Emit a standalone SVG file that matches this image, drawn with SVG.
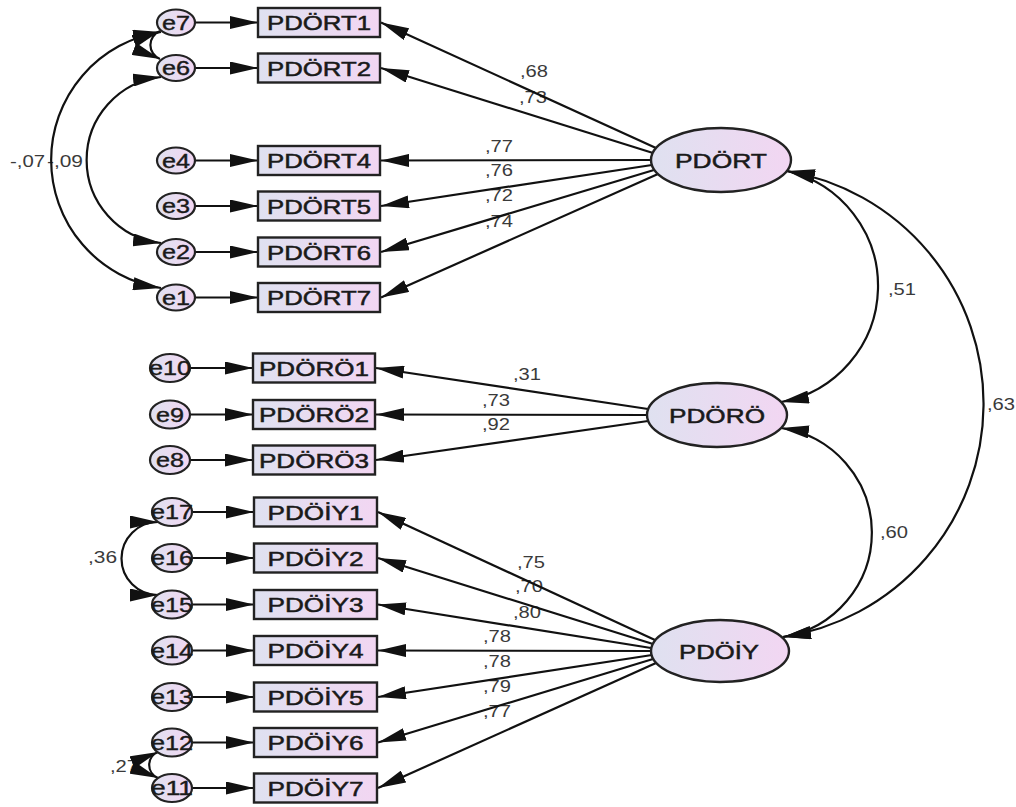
<svg xmlns="http://www.w3.org/2000/svg" width="1016" height="807" viewBox="0 0 1016 807">
<style>
.bg{fill:#ffffff}
.box{fill:url(#gr);stroke:#222;stroke-width:2.4}
.lat{fill:url(#gr);stroke:#222;stroke-width:2.4}
.err{fill:url(#gr);stroke:#222;stroke-width:2.2}
.ln{fill:none;stroke:#111;stroke-width:2.2;marker-end:url(#ah)}
.cov{fill:none;stroke:#111;stroke-width:2.2;marker-start:url(#ah);marker-end:url(#ah)}
.t{font-family:"Liberation Sans",Arial,sans-serif;font-size:21px;fill:#1a1a1a;stroke:#1a1a1a;stroke-width:0.5;text-anchor:middle}
.te{font-family:"Liberation Sans",Arial,sans-serif;font-size:20px;fill:#1a1a1a;stroke:#1a1a1a;stroke-width:0.4;text-anchor:middle}
.nl{font-family:"Liberation Sans",Arial,sans-serif;font-size:16px;fill:#3a3a3a}
</style>
<defs>
<linearGradient id="gr" x1="0" y1="0" x2="1" y2="0">
<stop offset="0" stop-color="#dfe1f0"/>
<stop offset="1" stop-color="#f2d6f2"/>
</linearGradient>
<marker id="ah" viewBox="0 0 28 13" refX="28" refY="6.5" markerWidth="28" markerHeight="13" markerUnits="userSpaceOnUse" orient="auto-start-reverse">
<path d="M0,0 L28,6.5 L0,13 z" fill="#111"/>
</marker>
</defs>
<rect class="bg" x="0" y="0" width="1016" height="807"/>

<g id="labels">
<text class="nl" x="520" y="77" textLength="28" lengthAdjust="spacingAndGlyphs">,68</text>
<text class="nl" x="519" y="103" textLength="28" lengthAdjust="spacingAndGlyphs">,73</text>
<text class="nl" x="485" y="152" textLength="28" lengthAdjust="spacingAndGlyphs">,77</text>
<text class="nl" x="485" y="176" textLength="28" lengthAdjust="spacingAndGlyphs">,76</text>
<text class="nl" x="485" y="201" textLength="28" lengthAdjust="spacingAndGlyphs">,72</text>
<text class="nl" x="485" y="227" textLength="28" lengthAdjust="spacingAndGlyphs">,74</text>
<text class="nl" x="513" y="380" textLength="28" lengthAdjust="spacingAndGlyphs">,31</text>
<text class="nl" x="482" y="406" textLength="28" lengthAdjust="spacingAndGlyphs">,73</text>
<text class="nl" x="482" y="430" textLength="28" lengthAdjust="spacingAndGlyphs">,92</text>
<text class="nl" x="517" y="568" textLength="28" lengthAdjust="spacingAndGlyphs">,75</text>
<text class="nl" x="515" y="592" textLength="28" lengthAdjust="spacingAndGlyphs">,70</text>
<text class="nl" x="513" y="618" textLength="28" lengthAdjust="spacingAndGlyphs">,80</text>
<text class="nl" x="483" y="642" textLength="28" lengthAdjust="spacingAndGlyphs">,78</text>
<text class="nl" x="483" y="667" textLength="28" lengthAdjust="spacingAndGlyphs">,78</text>
<text class="nl" x="483" y="692" textLength="28" lengthAdjust="spacingAndGlyphs">,79</text>
<text class="nl" x="483" y="717" textLength="28" lengthAdjust="spacingAndGlyphs">,77</text>
<text class="nl" x="888" y="295" textLength="28" lengthAdjust="spacingAndGlyphs">,51</text>
<text class="nl" x="987" y="410" textLength="28" lengthAdjust="spacingAndGlyphs">,63</text>
<text class="nl" x="880" y="538" textLength="28" lengthAdjust="spacingAndGlyphs">,60</text>
<text class="nl" x="10" y="167" textLength="35" lengthAdjust="spacingAndGlyphs">-,07</text>
<text class="nl" x="47" y="167" textLength="36" lengthAdjust="spacingAndGlyphs">-,09</text>
<text class="nl" x="88" y="563" textLength="29" lengthAdjust="spacingAndGlyphs">,36</text>
<text class="nl" x="110" y="772" textLength="28" lengthAdjust="spacingAndGlyphs">,27</text>
</g>

<g id="connectors">
<line class="ln" x1="195" y1="22.5" x2="258" y2="22.5"/>
<line class="ln" x1="195" y1="68" x2="258" y2="68"/>
<line class="ln" x1="195" y1="160.5" x2="258" y2="160.5"/>
<line class="ln" x1="195" y1="206" x2="258" y2="206"/>
<line class="ln" x1="195" y1="252" x2="258" y2="252"/>
<line class="ln" x1="195" y1="297.5" x2="258" y2="297.5"/>
<line class="ln" x1="190" y1="368" x2="253" y2="368"/>
<line class="ln" x1="190" y1="414.5" x2="253" y2="414.5"/>
<line class="ln" x1="190" y1="460" x2="253" y2="460"/>
<line class="ln" x1="192" y1="512" x2="254" y2="512"/>
<line class="ln" x1="192" y1="558" x2="254" y2="558"/>
<line class="ln" x1="192" y1="604.5" x2="254" y2="604.5"/>
<line class="ln" x1="192" y1="650.5" x2="254" y2="650.5"/>
<line class="ln" x1="192" y1="697" x2="254" y2="697"/>
<line class="ln" x1="192" y1="742.5" x2="254" y2="742.5"/>
<line class="ln" x1="192" y1="788" x2="254" y2="788"/>
<line class="ln" x1="656" y1="148" x2="381" y2="22.5"/>
<line class="ln" x1="653" y1="153" x2="381" y2="68"/>
<line class="ln" x1="651" y1="160" x2="381" y2="160.5"/>
<line class="ln" x1="652" y1="165" x2="381" y2="206"/>
<line class="ln" x1="654" y1="170" x2="381" y2="252"/>
<line class="ln" x1="658" y1="174" x2="381" y2="297.5"/>
<line class="ln" x1="648" y1="409" x2="376" y2="368"/>
<line class="ln" x1="647" y1="415" x2="376" y2="414.5"/>
<line class="ln" x1="648" y1="421" x2="376" y2="460"/>
<line class="ln" x1="655" y1="640" x2="378" y2="512"/>
<line class="ln" x1="653" y1="644" x2="378" y2="558"/>
<line class="ln" x1="651" y1="648" x2="378" y2="604.5"/>
<line class="ln" x1="651" y1="651" x2="378" y2="650.5"/>
<line class="ln" x1="652" y1="655" x2="378" y2="697"/>
<line class="ln" x1="653" y1="659" x2="378" y2="742.5"/>
<line class="ln" x1="656" y1="663" x2="378" y2="788"/>
<path class="cov" d="M161,32 A129.5,129.5 0 0 0 161,288"/>
<path class="cov" d="M161,77 A83.5,83.5 0 0 0 161,243"/>
<path class="cov" d="M160,31 A15,15 0 0 0 160,59"/>
<path class="cov" d="M158,522 A36.3,36.3 0 0 0 158,595"/>
<path class="cov" d="M158,752 A14,14 0 0 0 158,778"/>
<path class="cov" d="M787,171 A118,118 0 0 1 781,402"/>
<path class="cov" d="M787,171 A236,236 0 0 1 783,637"/>
<path class="cov" d="M781,428 A105.7,105.7 0 0 1 783,637"/>
</g>

<g id="PDORT"><ellipse class="lat" cx="721" cy="160" rx="70" ry="32"/><text class="t" x="721" y="168" textLength="92" lengthAdjust="spacingAndGlyphs">PDÖRT</text></g>
<g id="PDORO"><ellipse class="lat" cx="717" cy="415" rx="70" ry="32"/><text class="t" x="717" y="423" textLength="96" lengthAdjust="spacingAndGlyphs">PDÖRÖ</text></g>
<g id="PDOIY"><ellipse class="lat" cx="720" cy="651" rx="69" ry="31"/><text class="t" x="719" y="659" textLength="80" lengthAdjust="spacingAndGlyphs">PDÖİY</text></g>

<g id="PDORT1"><rect class="box" x="258" y="8" width="122" height="29"/><text class="t" x="319" y="30" textLength="104" lengthAdjust="spacingAndGlyphs">PDÖRT1</text></g>
<g id="PDORT2"><rect class="box" x="258" y="53.5" width="122" height="29"/><text class="t" x="319" y="75.5" textLength="104" lengthAdjust="spacingAndGlyphs">PDÖRT2</text></g>
<g id="PDORT4"><rect class="box" x="258" y="146" width="122" height="29"/><text class="t" x="319" y="168" textLength="104" lengthAdjust="spacingAndGlyphs">PDÖRT4</text></g>
<g id="PDORT5"><rect class="box" x="258" y="191.5" width="122" height="29"/><text class="t" x="319" y="213.5" textLength="104" lengthAdjust="spacingAndGlyphs">PDÖRT5</text></g>
<g id="PDORT6"><rect class="box" x="258" y="237.5" width="122" height="29"/><text class="t" x="319" y="259.5" textLength="104" lengthAdjust="spacingAndGlyphs">PDÖRT6</text></g>
<g id="PDORT7"><rect class="box" x="258" y="283" width="122" height="29"/><text class="t" x="319" y="305" textLength="104" lengthAdjust="spacingAndGlyphs">PDÖRT7</text></g>

<g id="PDORO1"><rect class="box" x="253" y="353.5" width="122" height="29"/><text class="t" x="314" y="375.5" textLength="110" lengthAdjust="spacingAndGlyphs">PDÖRÖ1</text></g>
<g id="PDORO2"><rect class="box" x="253" y="400" width="122" height="29"/><text class="t" x="314" y="422" textLength="110" lengthAdjust="spacingAndGlyphs">PDÖRÖ2</text></g>
<g id="PDORO3"><rect class="box" x="253" y="445.5" width="122" height="29"/><text class="t" x="314" y="467.5" textLength="110" lengthAdjust="spacingAndGlyphs">PDÖRÖ3</text></g>

<g id="PDOIY1"><rect class="box" x="254" y="497.5" width="123" height="29"/><text class="t" x="315.5" y="519.5" textLength="96" lengthAdjust="spacingAndGlyphs">PDÖİY1</text></g>
<g id="PDOIY2"><rect class="box" x="254" y="543.5" width="123" height="29"/><text class="t" x="315.5" y="565.5" textLength="96" lengthAdjust="spacingAndGlyphs">PDÖİY2</text></g>
<g id="PDOIY3"><rect class="box" x="254" y="590" width="123" height="29"/><text class="t" x="315.5" y="612" textLength="96" lengthAdjust="spacingAndGlyphs">PDÖİY3</text></g>
<g id="PDOIY4"><rect class="box" x="254" y="636" width="123" height="29"/><text class="t" x="315.5" y="658" textLength="96" lengthAdjust="spacingAndGlyphs">PDÖİY4</text></g>
<g id="PDOIY5"><rect class="box" x="254" y="682.5" width="123" height="29"/><text class="t" x="315.5" y="704.5" textLength="96" lengthAdjust="spacingAndGlyphs">PDÖİY5</text></g>
<g id="PDOIY6"><rect class="box" x="254" y="728" width="123" height="29"/><text class="t" x="315.5" y="750" textLength="96" lengthAdjust="spacingAndGlyphs">PDÖİY6</text></g>
<g id="PDOIY7"><rect class="box" x="254" y="773.5" width="123" height="29"/><text class="t" x="315.5" y="795.5" textLength="96" lengthAdjust="spacingAndGlyphs">PDÖİY7</text></g>

<g id="e7"><ellipse class="err" cx="176" cy="22.5" rx="19" ry="13"/><text class="te" x="176" y="29.5" textLength="28" lengthAdjust="spacingAndGlyphs">e7</text></g>
<g id="e6"><ellipse class="err" cx="176" cy="68" rx="19" ry="13"/><text class="te" x="176" y="75" textLength="28" lengthAdjust="spacingAndGlyphs">e6</text></g>
<g id="e4"><ellipse class="err" cx="176" cy="160.5" rx="19" ry="13"/><text class="te" x="176" y="167.5" textLength="28" lengthAdjust="spacingAndGlyphs">e4</text></g>
<g id="e3"><ellipse class="err" cx="176" cy="206" rx="19" ry="13"/><text class="te" x="176" y="213" textLength="28" lengthAdjust="spacingAndGlyphs">e3</text></g>
<g id="e2"><ellipse class="err" cx="176" cy="252" rx="19" ry="13"/><text class="te" x="176" y="259" textLength="28" lengthAdjust="spacingAndGlyphs">e2</text></g>
<g id="e1"><ellipse class="err" cx="176" cy="297.5" rx="19" ry="13"/><text class="te" x="176" y="304.5" textLength="28" lengthAdjust="spacingAndGlyphs">e1</text></g>

<g id="e10"><ellipse class="err" cx="170" cy="368" rx="20" ry="14"/><text class="te" x="170" y="375" textLength="42" lengthAdjust="spacingAndGlyphs">e10</text></g>
<g id="e9"><ellipse class="err" cx="170" cy="414.5" rx="20" ry="14"/><text class="te" x="170" y="421.5" textLength="28" lengthAdjust="spacingAndGlyphs">e9</text></g>
<g id="e8"><ellipse class="err" cx="170" cy="460" rx="20" ry="14"/><text class="te" x="170" y="467" textLength="28" lengthAdjust="spacingAndGlyphs">e8</text></g>

<g id="e17"><ellipse class="err" cx="172" cy="512" rx="20" ry="14"/><text class="te" x="172" y="519" textLength="42" lengthAdjust="spacingAndGlyphs">e17</text></g>
<g id="e16"><ellipse class="err" cx="172" cy="558" rx="20" ry="14"/><text class="te" x="172" y="565" textLength="42" lengthAdjust="spacingAndGlyphs">e16</text></g>
<g id="e15"><ellipse class="err" cx="172" cy="604.5" rx="20" ry="14"/><text class="te" x="172" y="611.5" textLength="42" lengthAdjust="spacingAndGlyphs">e15</text></g>
<g id="e14"><ellipse class="err" cx="172" cy="650.5" rx="20" ry="14"/><text class="te" x="172" y="657.5" textLength="42" lengthAdjust="spacingAndGlyphs">e14</text></g>
<g id="e13"><ellipse class="err" cx="172" cy="697" rx="20" ry="14"/><text class="te" x="172" y="704" textLength="42" lengthAdjust="spacingAndGlyphs">e13</text></g>
<g id="e12"><ellipse class="err" cx="172" cy="742.5" rx="20" ry="14"/><text class="te" x="172" y="749.5" textLength="42" lengthAdjust="spacingAndGlyphs">e12</text></g>
<g id="e11"><ellipse class="err" cx="172" cy="788" rx="20" ry="14"/><text class="te" x="172" y="795" textLength="42" lengthAdjust="spacingAndGlyphs">e11</text></g>
</svg>
